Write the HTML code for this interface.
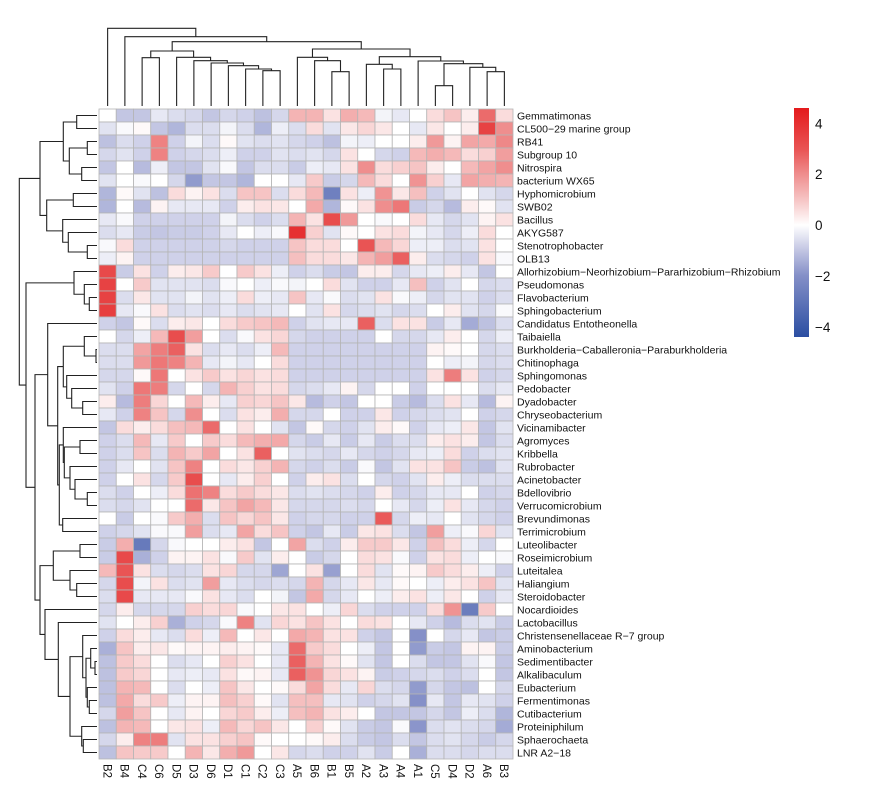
<!DOCTYPE html>
<html><head><meta charset="utf-8"><style>
html,body{margin:0;padding:0;background:#fff;}
svg text{font-family:"Liberation Sans",Arial,sans-serif;fill:#111;}
</style></head><body>
<svg id="chart" width="881" height="789" viewBox="0 0 881 789" xmlns="http://www.w3.org/2000/svg">
<defs>
<linearGradient id="lg" x1="0" y1="0" x2="0" y2="1">
<stop offset="0" stop-color="#e41a1c"/>
<stop offset="0.18" stop-color="#e95454"/>
<stop offset="0.29" stop-color="#ef8e8e"/>
<stop offset="0.40" stop-color="#f6c4c4"/>
<stop offset="0.511" stop-color="#ffffff"/>
<stop offset="0.62" stop-color="#c3c6e3"/>
<stop offset="0.73" stop-color="#8590c8"/>
<stop offset="1" stop-color="#2b4ea2"/>
</linearGradient>
</defs>
<g id="cells"></g>
<g id="rowlabels"></g>
<g id="collabels"></g>
<g id="rowdendro"></g>
<g id="coldendro"></g>
<g id="legend">
<rect x="794" y="108" width="15" height="229" fill="url(#lg)"/>
</g>
</svg>
<script>
const colNames = ["B2","B4","C4","C6","D5","D3","D6","D1","C1","C2","C3","A5","B6","B1","B5","A2","A3","A4","A1","C5","D4","D2","A6","B3"];
const rowNames = ["Gemmatimonas","CL500\u221229 marine group","RB41","Subgroup 10","Nitrospira","bacterium WX65","Hyphomicrobium","SWB02","Bacillus","AKYG587","Stenotrophobacter","OLB13","Allorhizobium\u2212Neorhizobium\u2212Pararhizobium\u2212Rhizobium","Pseudomonas","Flavobacterium","Sphingobacterium","Candidatus Entotheonella","Taibaiella","Burkholderia\u2212Caballeronia\u2212Paraburkholderia","Chitinophaga","Sphingomonas","Pedobacter","Dyadobacter","Chryseobacterium","Vicinamibacter","Agromyces","Kribbella","Rubrobacter","Acinetobacter","Bdellovibrio","Verrucomicrobium","Brevundimonas","Terrimicrobium","Luteolibacter","Roseimicrobium","Luteitalea","Haliangium","Steroidobacter","Nocardioides","Lactobacillus","Christensenellaceae R\u22127 group","Aminobacterium","Sedimentibacter","Alkalibaculum","Eubacterium","Fermentimonas","Cutibacterium","Proteiniphilum","Sphaerochaeta","LNR A2\u221218"];
const legendTicks = [4,2,0,-2,-4];
const values = [
[0,-1,-1,-0.4,-0.6,-0.7,-1,-0.7,-0.8,-1.1,-0.7,1.3,1.3,0.5,1.4,1.2,-0.2,-0.4,0,0.6,1.0,0.3,2.6,0.6],
[-0.5,-0.1,0.1,-1,-1.3,-0.6,-0.6,-0.2,-0.6,-1.3,-0.3,-0.6,0.6,-0.5,0.4,0.7,0.4,0,-0.4,0.4,0,0.3,3.5,2.0],
[-1.1,-0.6,-0.8,2.2,-0.8,-0.2,-0.6,0.1,-0.5,-0.6,-0.5,-0.7,-0.8,-1.1,-0.2,-0.3,0,0,0.3,1.8,0.2,1.6,1.5,2.1],
[-0.7,-0.5,-0.8,2.2,-0.8,-0.7,-0.6,-0.3,-0.8,-0.8,-0.5,-0.6,-0.5,-0.7,0.5,0,-0.7,-0.8,1.2,1.4,1.2,0.6,0.8,1.7],
[-1,0,-1.2,-0.3,-1,-1,-0.5,-0.1,-1,-0.6,-0.6,-0.9,-0.3,-0.4,0.5,2.0,0.6,0.8,1.0,0.3,0,1.2,1.6,2.0],
[-0.5,0,-0.1,0,-0.7,-1.8,-1,-1,-1.3,0,0,-0.4,0.9,-0.9,-0.7,1.2,0.6,0,1.9,0.8,-0.4,1.6,1.4,1.3],
[-1.3,0.1,-0.5,-1.1,0.6,0.2,0.5,-0.6,1.0,1.0,-0.6,0.6,1.2,-2.6,0.5,-0.3,1.9,0.4,1.1,-0.8,-0.5,0,-0.5,-0.7],
[-1.3,0,-1.2,0.2,-0.4,-0.4,-0.4,-0.8,0.3,0.5,0.4,0,1.5,-1.3,0.1,0.5,2.0,2.4,-0.9,-0.7,-1.2,0.3,0.1,-0.5],
[-0.4,-0.1,-0.8,-0.8,-0.8,-0.8,-0.8,-0.2,-0.6,-0.8,-0.6,1.3,0.5,3.2,1.8,0,-0.1,0,0.6,-0.4,-0.7,-0.5,0.2,0.5],
[-0.6,-0.4,-0.9,-1.0,-0.9,-0.9,-0.8,-0.4,0,-0.3,-0.1,4.0,0.8,-0.5,0.1,0,0.5,0.6,-0.2,-0.4,-0.7,-0.3,0.6,0],
[-0.1,0.6,-0.8,-0.8,-0.8,-0.8,-0.8,-0.7,-0.8,-0.8,-0.8,1.0,0.6,0.6,0,3.0,1.2,0.7,-0.3,-0.3,-0.6,-0.5,0.5,0],
[-0.3,0.2,-0.8,-0.8,-0.8,-0.8,-0.8,-0.8,-0.8,-0.8,-0.8,1.1,0.6,0.6,0.4,1.3,1.7,2.8,0.3,-0.6,-0.7,-0.8,0.5,-0.1],
[3.3,-0.9,0.5,-0.8,0.3,0.4,0.9,0,0.9,0.5,-0.3,-0.8,-0.6,-0.9,-1.0,0.3,0.3,-0.7,-0.4,-0.3,0.3,-0.4,-1,0],
[3.5,0,0.9,-0.5,-0.5,-0.5,-0.6,-0.1,0,-0.3,-0.1,-0.2,0,0.6,-0.5,-0.8,-0.8,-0.4,1.1,-0.8,-0.5,0,-0.7,-0.6],
[3.5,-0.6,0.4,-0.5,-0.5,-0.2,-0.5,-0.3,0.6,-0.3,-0.4,1.0,-0.4,-0.1,-0.6,-0.5,0.5,-0.1,-0.3,-0.7,-0.5,-0.5,-0.8,-0.6],
[3.6,-0.4,-0.1,0.5,-0.6,-0.5,-0.6,-0.4,-0.6,-0.5,-0.4,0,-0.5,0.5,-0.7,-0.6,-0.5,-0.7,-0.6,0,0.3,-0.5,-0.7,-0.1],
[-0.8,-1.0,0.1,-0.6,0.3,0.4,0,0.6,0.9,1.0,1.2,-0.8,-0.5,-0.4,-0.4,2.8,-0.6,0.5,0.5,-0.9,-0.4,-1.5,-1.1,-0.6],
[0,-0.7,-0.3,1.2,3.2,1.7,0,-0.6,-0.1,0.5,0.7,-0.7,-0.8,-0.8,-0.8,-0.8,0,-0.7,-0.7,-0.4,0.3,0,-0.7,-0.3],
[-0.6,-0.6,1.6,2.3,2.8,0.5,-0.6,-0.4,-0.6,-0.3,1.2,-0.8,-0.8,-0.8,-0.8,-0.8,-0.8,-0.8,-0.8,0.2,0.1,0,-0.7,-0.6],
[-0.6,-0.6,1.8,2.4,2.2,1.3,-0.4,-0.2,-0.4,0,0.6,-0.8,-0.8,-0.8,-0.8,-0.8,-0.8,-0.8,-0.8,0,-0.3,-0.2,-0.7,-0.6],
[-0.7,-0.7,0.1,2.4,0,0.5,0.9,0.5,0.7,0.5,0.6,-0.8,-0.8,-0.8,-0.8,-0.8,-0.8,-0.8,-0.8,0.5,2.3,0.5,-0.8,-0.7],
[-0.5,-0.8,2.4,2.3,-0.7,0,-0.7,1.3,0.8,0.5,0.6,-0.7,-0.6,-0.4,0.2,-0.7,0,0,-0.8,0,0,0,-0.6,-0.4],
[0.3,-1.2,2.3,0.7,0,1.2,0.3,-0.4,0.8,0.7,1.0,0.4,-1.2,-0.8,-1.0,0,0,-0.9,-1.2,-0.6,0.5,-0.4,-1.2,0.2],
[-0.4,-0.8,2.2,1.0,-0.7,2.0,0,-0.6,0.5,0.3,1.4,-0.7,-0.7,0,-0.8,-0.8,0.4,-0.8,-0.7,-0.6,-0.5,0,-0.8,-0.7],
[-1.0,0.6,0.3,0.6,1.1,1.2,2.6,0,0.5,0,-0.5,-1.0,0.1,-0.7,-0.8,-0.5,0.3,0.1,-0.8,-0.4,-0.3,0.4,-1.0,-0.5],
[-0.8,-0.6,1.2,-0.4,0.9,0,0.9,0.6,1.2,1.4,1.5,-0.7,-0.9,-0.4,-0.9,-0.4,-0.9,-0.6,-0.6,0.3,0.5,0.3,-1.0,-0.6],
[-0.8,-0.6,1.0,-0.6,1.3,0.9,1.6,0,0.5,2.8,0,-0.5,-0.6,-0.7,-0.4,-0.7,-0.8,-0.7,-0.4,-0.3,0.6,-0.8,-0.6,-0.5],
[-0.8,-0.4,0,-0.5,1.0,2.2,0,0.6,0.4,0.8,1.3,-0.7,-0.8,-0.6,-0.9,-0.1,-1.0,-0.5,0.5,0.5,1.0,-0.9,-1.1,-0.5],
[-0.8,0,0.5,-0.7,0.9,3.2,0,-0.4,0.3,0.8,0,-0.8,0.3,0.5,-0.6,0,-0.7,-0.8,-0.5,0.3,-0.3,-0.6,-0.6,-0.6],
[-0.6,-0.8,0,-0.3,0.6,2.5,2.2,0.6,0.9,0.6,0.4,-0.6,-0.5,-0.6,-0.7,-0.8,0.3,-0.8,-0.7,-0.4,-0.4,0,-0.8,-0.7],
[-0.6,-0.7,-0.5,0,0,2.6,0.4,1.0,1.6,1.2,0.4,-0.7,-0.7,-0.7,-0.6,-0.7,0,-0.4,-0.7,-0.3,0.5,-0.4,-0.7,-0.8],
[0,-0.9,0,-0.1,0.9,1.4,-0.6,1.0,0.7,1.0,0.4,-0.8,-0.7,-0.7,-0.8,-0.8,2.9,-0.7,-0.3,-0.4,0,-0.5,-0.7,-0.8],
[-0.8,-0.7,-0.5,-0.1,-0.1,1.7,-0.6,-0.4,1.6,0.6,1.0,-0.8,-1.0,-0.4,-0.9,0.4,0.5,-0.6,-1.0,1.7,-0.3,-0.1,0.7,-0.5],
[-0.9,1.4,-2.8,-0.7,-0.1,0,0,0.3,0.5,-1.0,0,1.6,-0.6,-0.8,0.3,0.9,0.9,0.4,-0.8,1.1,0.6,-0.3,-0.7,0],
[-0.9,3.3,-1.4,-0.8,0.2,0.2,0.5,-0.1,0.9,-0.5,0.3,0,-0.9,-0.7,0,0.6,0.5,-0.1,-0.8,0.5,0.6,-0.3,0,-0.1],
[1.2,3.0,0.5,-0.6,-0.7,-0.6,0.5,0.7,-0.7,-0.7,-1.6,0,0.5,-1.7,0,0.6,-0.5,0.1,0.2,0.9,0.6,0.3,-0.3,-0.8],
[-0.7,3.2,-0.2,0.5,-0.6,-0.5,1.7,-0.4,-0.6,-0.7,-0.6,-0.7,1.3,-0.7,-0.4,0.4,-0.4,0.1,0,-0.3,0.3,0.5,1.0,-0.5],
[-0.6,3.3,-0.4,-0.4,-0.4,-0.1,0.5,-0.4,-0.6,0,-0.2,-1.0,1.5,-0.7,-0.4,0,-0.3,0.3,0.5,-0.3,0.4,0,-0.8,-0.4],
[-0.7,0.3,-0.7,-0.7,-0.7,0.8,0.6,0.7,-0.1,0,0.4,0.5,0,-0.3,0.7,-0.6,-0.8,-0.8,-0.8,0.6,1.9,-2.7,0.9,0],
[-0.5,0,0.3,0.8,-1.4,-0.8,-0.7,-0.1,2.2,-0.5,0.7,0.5,1.0,0.5,0,0.6,0.5,0,-0.4,-0.8,-1.2,-0.6,-0.5,-0.9],
[-0.8,0.6,0.3,-0.4,-0.6,0.6,-0.3,1.2,0,0.4,0,1.5,1.3,0.5,0.5,-0.8,-1.0,0,-2.0,0,-0.7,-0.4,-1.0,-0.9],
[-1.4,1.0,0.3,0.4,0.1,0.2,0.2,0.3,0.2,0.1,-0.4,2.6,0.9,0.6,0,-0.3,-1.0,0,-1.8,-0.9,-1.0,0.2,0.2,-0.9],
[-1.1,0.9,0.6,0,-0.6,-0.4,0,0.8,0.5,0,-0.4,2.8,1.3,0.5,0.1,-0.5,-1.0,0,-0.6,-1.0,-1.0,-0.5,-0.1,-1.0],
[-1.1,0.9,0.7,0,-0.4,-0.3,-0.4,0.5,0.1,0.2,-0.4,2.8,1.9,0.7,0.5,0.2,-0.9,-0.8,-0.7,-0.6,-0.8,-0.6,0,-1.0],
[-1.1,1.3,1.2,0,-0.6,0,-0.3,1.0,0.4,0,0.1,0.6,1.6,0.6,-0.4,0.7,-0.6,-0.7,-1.8,-0.7,-1.0,-1.1,0,-0.7],
[-1.1,1.5,0.6,0.9,-0.3,0.2,0.2,1.1,0.8,0.1,-0.5,1.1,1.1,-0.4,-0.5,-0.8,-0.7,-0.5,-2.0,-0.4,-1.0,-0.4,-0.5,-0.8],
[-0.7,1.7,1.0,0,-0.4,0.2,0,0.7,0.9,0.3,-0.3,1.1,1.3,0.5,0.3,0,-1.0,-1.0,-1.0,-0.7,-1.0,-0.3,-0.6,-1.3],
[-1.1,1.3,1.2,0,0.4,0.5,-0.3,1.2,0.7,1.0,0.4,0,0.8,0.1,-0.5,-0.9,-1.0,-0.1,-1.9,-0.6,-0.5,-0.6,-0.7,-1.5],
[-0.7,0.3,2.2,2.3,-0.5,0.5,0.5,0.8,1.0,0.1,0,0,0.1,0.3,-0.6,-0.9,-1.0,-0.6,-1.0,-0.6,-0.5,-0.7,-0.9,-0.7],
[-1.1,1.0,0.9,0.9,0,1.3,0.4,1.4,1.8,0,0.4,-0.7,-0.6,-0.8,-0.8,-0.5,-0.9,0,-1.4,-0.6,-0.6,-0.7,-0.6,-0.6]
];
// dendrogram merge structures: [height-position, left, right]; leaves = index
const rowTree = [19.3,[40,[63.3,[76.7,0,1],[69.3,[87.3,2,3],[81.7,4,5]]],[46.7,[73.3,6,7],[62.7,8,[68.3,9,[87.3,10,11]]]]],
 [26,[74,12,[84.3,13,[89.3,14,15]]],
  [35,[47.7,16,[57.7,[63.3,[84.3,17,[96,18,19]],[66.7,20,[71.7,21,[82.7,22,23]]]],
      [59.3,[63.3,24,[64.3,[80,25,26],[70,27,[75,28,[87.3,29,30]]]]],[62.7,31,32]]]],
   [40,[53.3,[80,33,34],[70,35,[76.7,36,37]]],
    [45,38,[58.3,39,[70,[82.7,40,[86,[90.7,41,[95,42,43]],[87.3,44,[89.3,45,46]]]],[81.7,47,[83.3,48,49]]]]]]]]];
const colTree = [28.3,0,[36.7,1,[41.7,
 [51,[57.7,2,3],[57.3,4,[60.7,5,[63,6,[65.7,7,[69,8,[70.7,9,10]]]]]]],
 [49,[57.3,11,[60.7,12,[71.7,13,14]]],[56.7,[64.3,15,[69,16,17]],[61,18,[63.7,[85.7,19,20],[67.3,21,[71.7,22,23]]]]]]]]];

const NS="http://www.w3.org/2000/svg";
const X0=99, Y0=109, CW=414/24, RH=13;
const vmin=-4.4, vmax=4.6;
function xScale(i){return X0+i*CW;}
function yScale(j){return Y0+j*RH;}
function legendY(v){return 337-(v-vmin)/(vmax-vmin)*229;}
const posStops=[[0,[255,255,255]],[1,[246,196,196]],[2,[239,142,142]],[3,[233,84,84]],[4.6,[228,26,28]]];
const negStops=[[0,[255,255,255]],[1,[195,198,227]],[2,[133,144,200]],[4.4,[43,78,162]]];
function color(v){
  const st=v>=0?posStops:negStops; const a=Math.abs(v);
  for(let k=1;k<st.length;k++){
    if(a<=st[k][0]||k===st.length-1){
      const t=Math.min(1,(a-st[k-1][0])/(st[k][0]-st[k-1][0]));
      const c=st[k-1][1].map((c0,m)=>Math.round(c0+(st[k][1][m]-c0)*t));
      return "rgb("+c.join(",")+")";
    }
  }
}
function mk(tag,attrs,parent){const e=document.createElementNS(NS,tag);for(const k in attrs)e.setAttribute(k,attrs[k]);parent.appendChild(e);return e;}

const gc=document.getElementById("cells");
values.forEach((row,j)=>row.forEach((v,i)=>{
  const r=mk("rect",{x:xScale(i),y:yScale(j),width:CW,height:RH,fill:color(v),stroke:"#b5b5b5","stroke-width":0.8},gc);
  
  
}));
const gr=document.getElementById("rowlabels");
rowNames.forEach((n,j)=>{
  const t=mk("text",{x:517,y:yScale(j)+RH/2+3.8,"font-size":10.5},gr);
  t.textContent=n;
  
  
});
const gcl=document.getElementById("collabels");
colNames.forEach((n,i)=>{
  const cx=xScale(i)+CW/2;
  const t=mk("text",{transform:"translate("+(cx-4.2)+",764) rotate(90)","font-size":11.5},gcl);
  t.textContent=n;
  
  
});
// row dendrogram (x = merge position, y = leaf centers)
const grd=document.getElementById("rowdendro");
function drawRow(node){
  if(typeof node==="number") return {p:yScale(node)+RH/2,h:97};
  const a=drawRow(node[1]), b=drawRow(node[2]), h=node[0];
  mk("path",{d:"M"+a.h+","+a.p+"H"+h+"V"+b.p+"H"+b.h,fill:"none",stroke:"#222","stroke-width":1.1},grd);
  return {p:(a.p+b.p)/2,h:h};
}
drawRow(rowTree);
const gcd=document.getElementById("coldendro");
function drawCol(node){
  if(typeof node==="number") return {p:xScale(node)+CW/2,h:106};
  const a=drawCol(node[1]), b=drawCol(node[2]), h=node[0];
  mk("path",{d:"M"+a.p+","+a.h+"V"+h+"H"+b.p+"V"+b.h,fill:"none",stroke:"#222","stroke-width":1.1},gcd);
  return {p:(a.p+b.p)/2,h:h};
}
drawCol(colTree);
const gl=document.getElementById("legend");
legendTicks.forEach(v=>{
  const t=mk("text",{x:815,y:legendY(v)+5,"font-size":13.5},gl);
  t.textContent=(v<0?"\u2212":"")+Math.abs(v);
  
  
});
</script>
</body></html>
